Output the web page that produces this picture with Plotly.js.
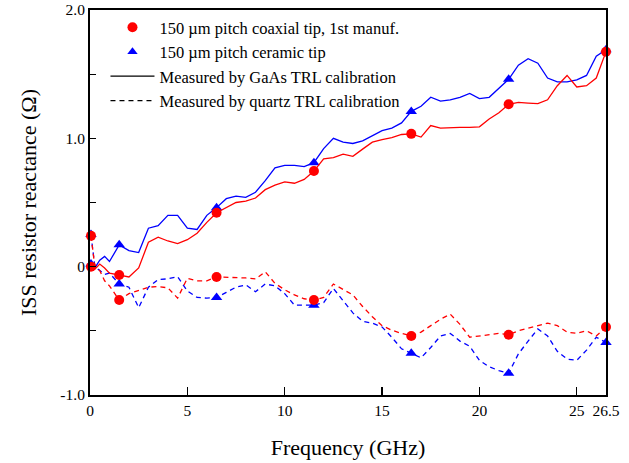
<!DOCTYPE html>
<html>
<head>
<meta charset="utf-8">
<script src="https://cdn.plot.ly/plotly-3.0.1.min.js"></script>
<style>html,body{margin:0;padding:0;background:#fff;}#chart{width:629px;height:463px;}</style>
</head>
<body>
<div id="chart"></div>
<script>
// Frequency grid (GHz)
const freq = [0.05, 0.25, 0.5, 0.75, 1.0, 1.5, 2.0, 2.5, 3.0, 3.5, 4.0, 4.5, 5.0, 5.5, 6.0, 6.5, 7.0, 7.5, 8.0, 8.5, 9.0, 9.5, 10.0, 10.5, 11.0, 11.5, 12.0, 12.5, 13.0, 13.5, 14.0, 14.5, 15.0, 15.5, 16.0, 16.5, 17.0, 17.5, 18.0, 18.5, 19.0, 19.5, 20.0, 20.5, 21.0, 21.5, 22.0, 22.5, 23.0, 23.5, 24.0, 24.5, 25.0, 25.5, 26.0, 26.5];
// Frequencies where markers are drawn
const markerFreqs = [0.05, 1.5, 6.5, 11.5, 16.5, 21.5, 26.5];

// Coaxial tip, GaAs TRL (red solid)
const coaxGaAs = [0.0, -0.02, 0.02, -0.01, -0.05, -0.065, -0.08, -0.01, 0.19, 0.23, 0.20, 0.18, 0.21, 0.26, 0.345, 0.42, 0.46, 0.50, 0.51, 0.535, 0.60, 0.635, 0.66, 0.65, 0.68, 0.745, 0.84, 0.85, 0.877, 0.86, 0.916, 0.97, 0.99, 1.006, 1.03, 1.035, 1.01, 1.10, 1.08, 1.085, 1.085, 1.085, 1.09, 1.15, 1.20, 1.265, 1.28, 1.275, 1.27, 1.30, 1.41, 1.49, 1.40, 1.41, 1.47, 1.675];
// Ceramic tip, GaAs TRL (blue solid)
const ceramGaAs = [0.02, -0.01, 0.05, 0.08, 0.04, 0.17, 0.125, 0.11, 0.30, 0.32, 0.40, 0.40, 0.30, 0.29, 0.40, 0.46, 0.53, 0.55, 0.54, 0.58, 0.67, 0.77, 0.79, 0.79, 0.78, 0.81, 0.92, 1.0, 0.97, 0.96, 0.98, 1.02, 1.06, 1.08, 1.12, 1.21, 1.25, 1.32, 1.29, 1.30, 1.32, 1.35, 1.31, 1.32, 1.39, 1.46, 1.57, 1.62, 1.585, 1.47, 1.44, 1.44, 1.455, 1.49, 1.64, 1.69];
// Coaxial tip, quartz TRL (red dashed)
const coaxQuartz = [0.24, 0.0, -0.03, -0.11, -0.15, -0.26, -0.21, -0.185, -0.16, -0.155, -0.165, -0.245, -0.09, -0.11, -0.11, -0.08, -0.083, -0.083, -0.088, -0.096, -0.04, -0.13, -0.18, -0.22, -0.25, -0.26, -0.24, -0.135, -0.175, -0.22, -0.31, -0.39, -0.46, -0.495, -0.52, -0.54, -0.51, -0.46, -0.41, -0.37, -0.45, -0.55, -0.54, -0.53, -0.52, -0.53, -0.50, -0.48, -0.46, -0.44, -0.46, -0.51, -0.52, -0.50, -0.54, -0.47];
// Ceramic tip, quartz TRL (blue dashed)
const ceramQuartz = [0.25, 0.0, -0.03, -0.06, -0.05, -0.135, -0.16, -0.32, -0.16, -0.10, -0.095, -0.078, -0.19, -0.24, -0.245, -0.24, -0.20, -0.16, -0.142, -0.195, -0.135, -0.15, -0.21, -0.30, -0.30, -0.30, -0.28, -0.17, -0.265, -0.36, -0.425, -0.44, -0.47, -0.55, -0.64, -0.675, -0.71, -0.63, -0.54, -0.52, -0.58, -0.62, -0.73, -0.78, -0.81, -0.83, -0.68, -0.58, -0.485, -0.54, -0.66, -0.72, -0.73, -0.65, -0.55, -0.59];

const legendNames = ["150 \u00b5m pitch coaxial tip, 1st manuf.", "150 \u00b5m pitch ceramic tip", "Measured by GaAs TRL calibration", "Measured by quartz TRL calibration"];

const xTickVals = [0, 5, 10, 15, 20, 25, 26.5];
const xTickText = ["0", "5", "10", "15", "20", "25", "26.5"];
const yTickVals = [-1, -0.5, 0, 0.5, 1, 1.5, 2];
const yTickText = ["-1.0", "", "0", "", "1.0", "", "2.0"];

const RED = "#ff0000", BLUE = "#0000ff";
const DASH = "5px,4px";
const msize = (sz) => freq.map(f => markerFreqs.includes(f) ? sz : 0);

function series(y, color, dash, symbol, sz) {
  return {
    x: freq, y: y, type: "scatter", mode: "lines+markers",
    line: {color: color, width: 1.3, dash: dash},
    marker: {color: color, symbol: symbol, size: msize(sz), opacity: 1, line: {width: 0}},
    showlegend: false, cliponaxis: false, hoverinfo: "skip"
  };
}

const traces = [
  series(ceramGaAs, BLUE, "solid", "triangle-up", 10),
  series(ceramQuartz, BLUE, DASH, "triangle-up", 10),
  series(coaxGaAs, RED, "solid", "circle", 10),
  series(coaxQuartz, RED, DASH, "circle", 10),
  // legend-only entries
  {x: [null], y: [null], type: "scatter", mode: "markers", name: legendNames[0],
   marker: {color: RED, symbol: "circle", size: 10, opacity: 1}, showlegend: true},
  {x: [null], y: [null], type: "scatter", mode: "markers", name: legendNames[1],
   marker: {color: BLUE, symbol: "triangle-up", size: 9, opacity: 1}, showlegend: true},
  {x: [null], y: [null], type: "scatter", mode: "lines", name: legendNames[2],
   line: {color: "#000", width: 1.2}, showlegend: true},
  {x: [null], y: [null], type: "scatter", mode: "lines", name: legendNames[3],
   line: {color: "#000", width: 1.2, dash: DASH}, showlegend: true}
];

const FONT = "Liberation Serif";

const layout = {
  width: 629, height: 463,
  margin: {l: 90, r: 23, t: 10, b: 68},
  paper_bgcolor: "#fff", plot_bgcolor: "#fff",
  font: {family: FONT, size: 15, color: "#000"},
  showlegend: true,
  legend: {x: 0.03, y: 1.0, xanchor: "left", yanchor: "top",
           bgcolor: "rgba(0,0,0,0)", borderwidth: 0,
           font: {family: FONT, size: 16.5, color: "#000"},
           tracegroupgap: 0, itemwidth: 44},
  xaxis: {
    range: [0, 26.5], autorange: false,
    tickmode: "array", tickvals: xTickVals, ticktext: xTickText,
    ticks: "inside", ticklen: 8, tickwidth: 1.2, tickcolor: "#000",
    showline: true, linewidth: 2, linecolor: "#000", mirror: true,
    showgrid: false, zeroline: false,
    tickfont: {family: FONT, size: 15.5, color: "#000"},
    title: {text: "Frequency (GHz)", font: {family: FONT, size: 22, color: "#000"}, standoff: 22}
  },
  yaxis: {
    range: [-1, 2], autorange: false,
    tickmode: "array", tickvals: yTickVals, ticktext: yTickText,
    ticks: "inside", ticklen: 6, tickwidth: 1.2, tickcolor: "#000",
    showline: true, linewidth: 2, linecolor: "#000", mirror: true,
    showgrid: false, zeroline: false,
    tickfont: {family: FONT, size: 15.5, color: "#000"},
    title: {text: "ISS resistor reactance (\u03a9)", font: {family: FONT, size: 22, color: "#000"}, standoff: 18}
  }
};

Plotly.newPlot("chart", traces, layout, {staticPlot: true, displayModeBar: false});
</script>
</body>
</html>
